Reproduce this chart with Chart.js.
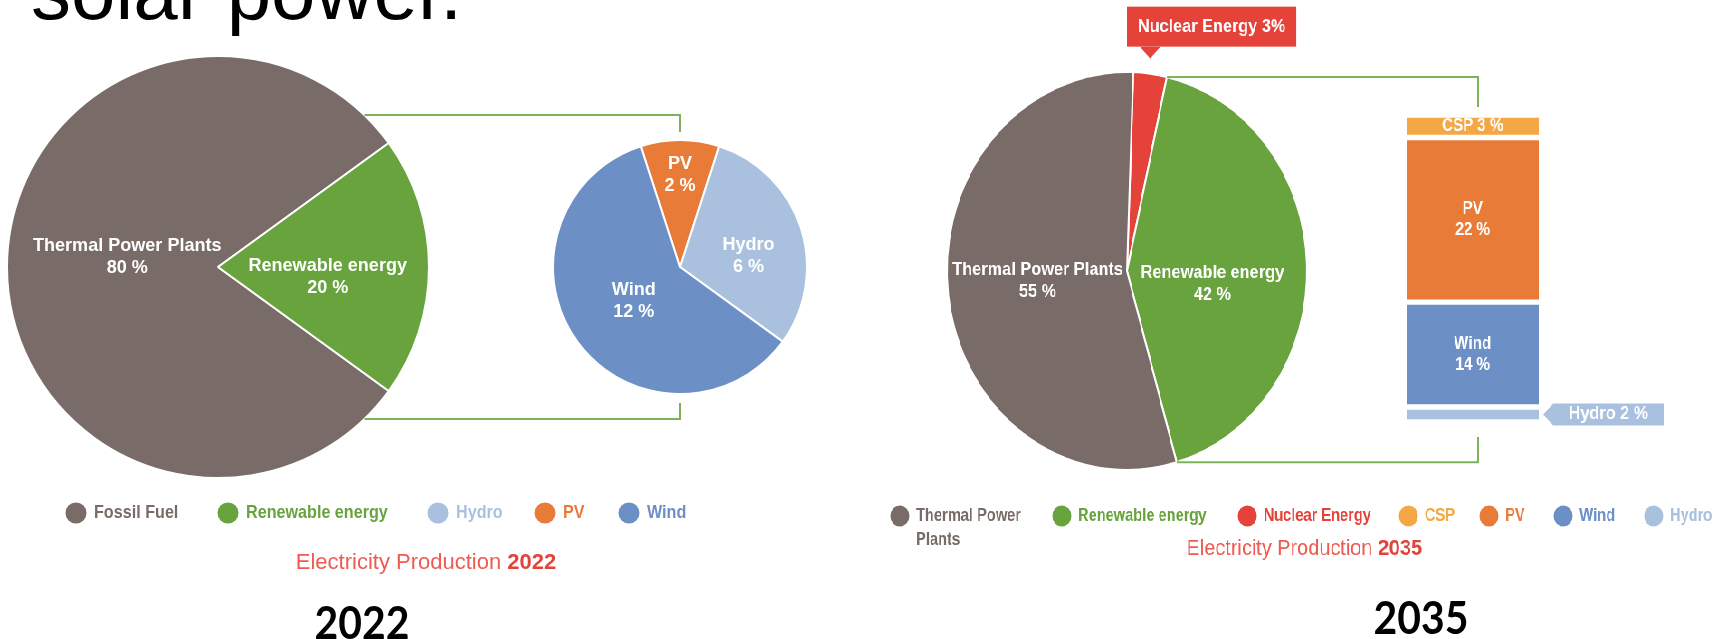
<!DOCTYPE html>
<html>
<head>
<meta charset="utf-8">
<script src="https://cdn.jsdelivr.net/npm/chart.js@4.4.0/dist/chart.umd.min.js"></script>
<style>
  html, body { margin: 0; padding: 0; background: #fff; overflow: hidden; }
  body { width: 1721px; height: 639px; position: relative; font-family: "Liberation Sans", Arial, sans-serif; }
  canvas, .abs { position: absolute; }
  #heading { left: 31px; top: -48px; font-size: 80px; line-height: 80px; color: #000; white-space: nowrap; }
  .year { width: 200px; text-align: center; font-family: Lato, "Open Sans", sans-serif; font-weight: 700;
          font-size: 46px; line-height: 46px; color: #000; transform: scaleX(0.89); }
  /* the 2035 panel is horizontally squeezed in the source picture */
  #rightPanel { left: 860px; top: 0; width: 960px; height: 639px; transform: scaleX(0.905); transform-origin: 0 0; }
</style>
</head>
<body>
<div id="heading" class="abs">solar power.</div>

<canvas id="leftMain" width="860" height="639" style="left:0;top:0"></canvas>
<canvas id="leftSub" width="260" height="260" style="left:550px;top:137px"></canvas>

<div id="rightPanel" class="abs">
  <canvas id="rightMain" width="960" height="639" style="left:0;top:0"></canvas>
  <canvas id="rightSub" width="400" height="639" style="left:560px;top:0"></canvas>
</div>

<div class="abs year" id="year0" style="left:262px;top:599px"></div>
<div class="abs year" id="year1" style="left:1321px;top:594px"></div>

<script>
// ---- data ----
const LEFT_MAIN_LABELS = ["Fossil Fuel", "Renewable energy"];
const LEFT_MAIN_NAMES = ["Thermal Power Plants", "Renewable energy"];
const LEFT_MAIN_VALUES = [80, 20];
const LEFT_SUB_LABELS = ["PV", "Hydro", "Wind"];
const LEFT_SUB_VALUES = [2, 6, 12];
const LEFT_LEGEND = ["Fossil Fuel", "Renewable energy", "Hydro", "PV", "Wind"];

const RIGHT_MAIN_LABELS = ["Nuclear Energy", "Renewable energy", "Thermal Power Plants"];
const RIGHT_MAIN_VALUES = [3, 42, 55];
const RIGHT_SUB_LABELS = ["Hydro", "Wind", "PV", "CSP"]; // stacked bottom -> top
const RIGHT_SUB_VALUES = [2, 14, 22, 3];
const RIGHT_LEGEND = ["Thermal Power Plants", "Renewable energy", "Nuclear Energy", "CSP", "PV", "Wind", "Hydro"];

const TITLE_TEXT = "Electricity Production ";
const YEARS = ["2022", "2035"];

// ---- style ----
const COLORS = {
  "Fossil Fuel": "#796c68",
  "Thermal Power Plants": "#796c68",
  "Renewable energy": "#68a33e",
  "Nuclear Energy": "#e5423a",
  "CSP": "#f4a845",
  "PV": "#e97b38",
  "Wind": "#6c8fc5",
  "Hydro": "#aac0df",
};
const LINK = "#7cb45a";
const TITLE_RED = "#ee5b52";
const YEAR_RED = "#e2443b";
const FAMILY = "'Liberation Sans', Arial, sans-serif";
const LABEL_FONT = `bold 19px ${FAMILY}`;
const LEGEND_FONT = `bold 19px ${FAMILY}`;
const LEGEND_SX = 0.85;

// layout (pixels)
const LEFT_LEGEND_X = [76, 228, 438, 545, 629];
const RIGHT_LEGEND_X = [44, 223, 428, 606, 695, 777, 877];
const SUB_PIE = { cx: 680, cy: 267, r: 126 };
const BAR_LINK = { x: 683, top: 107, bottom: 437 };

function txt(ctx, s, x, y, font, color, sx = 1, align = "center") {
  ctx.save();
  ctx.font = font;
  ctx.fillStyle = color;
  ctx.textAlign = align;
  ctx.textBaseline = "middle";
  ctx.translate(x, y);
  ctx.scale(sx, 1);
  ctx.fillText(s, 0, 0);
  ctx.restore();
}

function arcProps(arc) {
  return arc.getProps(["x", "y", "startAngle", "endAngle", "outerRadius"], true);
}

// two-line "Name / NN %" labels inside pie slices
function sliceLabels(names, values, place) {
  return {
    id: "sliceLabels",
    afterDatasetsDraw(chart) {
      const ctx = chart.ctx;
      chart.getDatasetMeta(0).data.forEach((arc, i) => {
        const p = place[i];
        if (!p) return;
        const { x, y, startAngle, endAngle, outerRadius } = arcProps(arc);
        const mid = (startAngle + endAngle) / 2;
        const lx = x + Math.cos(mid) * outerRadius * p.f;
        const ly = y + Math.sin(mid) * outerRadius * p.f + (p.dy || 0);
        txt(ctx, names[i], lx, ly - 11, LABEL_FONT, "#fff", 0.95);
        txt(ctx, values[i] + " %", lx, ly + 11, LABEL_FONT, "#fff", 0.95);
      });
    },
  };
}

function wrapWords(ctx, s, maxW) {
  const words = s.split(" ");
  const lines = [];
  let cur = "";
  words.forEach((w) => {
    const t = cur ? cur + " " + w : w;
    if (cur && ctx.measureText(t).width * LEGEND_SX > maxW) { lines.push(cur); cur = w; } else cur = t;
  });
  lines.push(cur);
  return lines;
}

function legendAndTitle(items, xs, y, title) {
  return {
    id: "legendAndTitle",
    afterDraw(chart) {
      const ctx = chart.ctx;
      items.forEach((name, i) => {
        const color = COLORS[name];
        ctx.fillStyle = color;
        ctx.beginPath();
        ctx.arc(xs[i], y, 10.5, 0, Math.PI * 2);
        ctx.fill();
        ctx.font = LEGEND_FONT;
        wrapWords(ctx, name, 150).forEach((ln, k) => {
          txt(ctx, ln, xs[i] + 18, y + k * 24, LEGEND_FONT, color, LEGEND_SX, "left");
        });
      });
      // "Electricity Production YYYY"
      const f1 = `22px ${FAMILY}`, f2 = `bold 22px ${FAMILY}`;
      ctx.font = f1;
      const w1 = ctx.measureText(title.text).width;
      ctx.font = f2;
      const w2 = ctx.measureText(title.year).width;
      const x0 = title.x - (w1 + w2) / 2;
      txt(ctx, title.text, x0, title.y, f1, TITLE_RED, 1, "left");
      txt(ctx, title.year, x0 + w1, title.y, f2, YEAR_RED, 1, "left");
    },
  };
}

// green bracket from the big 2022 pie to the renewable breakdown pie
const leftLinks = {
  id: "leftLinks",
  afterDatasetsDraw(chart) {
    const ctx = chart.ctx;
    const { x, y, outerRadius: r } = arcProps(chart.getDatasetMeta(0).data[0]);
    const dy = r * 0.72;
    const x0 = x + Math.sqrt(r * r - dy * dy);
    ctx.save();
    ctx.strokeStyle = LINK;
    ctx.lineWidth = 2;
    ctx.beginPath();
    ctx.moveTo(x0, y - dy); ctx.lineTo(SUB_PIE.cx, y - dy); ctx.lineTo(SUB_PIE.cx, SUB_PIE.cy - SUB_PIE.r - 9);
    ctx.moveTo(x0, y + dy); ctx.lineTo(SUB_PIE.cx, y + dy); ctx.lineTo(SUB_PIE.cx, SUB_PIE.cy + SUB_PIE.r + 10);
    ctx.stroke();
    ctx.restore();
  },
};

// bracket from the renewable slice of 2035 to the stacked bar + nuclear callout
const rightExtras = {
  id: "rightExtras",
  afterDatasetsDraw(chart) {
    const ctx = chart.ctx;
    const arcs = chart.getDatasetMeta(0).data;
    const ren = arcProps(arcs[RIGHT_MAIN_LABELS.indexOf("Renewable energy")]);
    const p0 = { x: ren.x + ren.outerRadius * Math.cos(ren.startAngle), y: ren.y + ren.outerRadius * Math.sin(ren.startAngle) };
    const p1 = { x: ren.x + ren.outerRadius * Math.cos(ren.endAngle), y: ren.y + ren.outerRadius * Math.sin(ren.endAngle) };
    ctx.save();
    ctx.strokeStyle = LINK;
    ctx.lineWidth = 2;
    ctx.beginPath();
    ctx.moveTo(p0.x, p0.y); ctx.lineTo(BAR_LINK.x, p0.y); ctx.lineTo(BAR_LINK.x, BAR_LINK.top);
    ctx.moveTo(p1.x, p1.y); ctx.lineTo(BAR_LINK.x, p1.y); ctx.lineTo(BAR_LINK.x, BAR_LINK.bottom);
    ctx.stroke();

    const ni = RIGHT_MAIN_LABELS.indexOf("Nuclear Energy");
    const nuc = arcProps(arcs[ni]);
    const mid = (nuc.startAngle + nuc.endAngle) / 2;
    const tip = { x: nuc.x + nuc.outerRadius * Math.cos(mid), y: nuc.y + nuc.outerRadius * Math.sin(mid) - 15 };
    const text = RIGHT_MAIN_LABELS[ni] + " " + RIGHT_MAIN_VALUES[ni] + "%";
    const font = `bold 18px ${FAMILY}`;
    ctx.font = font;
    const w = ctx.measureText(text).width + 24;
    const bottom = tip.y - 12, top = bottom - 40, left = nuc.x;
    ctx.fillStyle = COLORS["Nuclear Energy"];
    ctx.fillRect(left, top, w, 40);
    ctx.beginPath();
    ctx.moveTo(tip.x - 11, bottom); ctx.lineTo(tip.x + 11, bottom); ctx.lineTo(tip.x, tip.y);
    ctx.closePath();
    ctx.fill();
    ctx.restore();
    txt(ctx, text, left + w / 2, top + 20, font, "#fff");
  },
};

const barLabels = {
  id: "barLabels",
  afterDatasetsDraw(chart) {
    const ctx = chart.ctx;
    const font = `bold 18px ${FAMILY}`;
    RIGHT_SUB_LABELS.forEach((name, i) => {
      const { x, y, base, width } = chart.getDatasetMeta(i).data[0].getProps(["x", "y", "base", "width"], true);
      const cy = (y + base) / 2;
      const h = base - y;
      const pct = RIGHT_SUB_VALUES[i] + " %";
      if (h < 20) {
        // arrow callout to the right of a thin segment
        const tx = x + width / 2 + 5;
        ctx.save();
        ctx.fillStyle = COLORS[name];
        ctx.beginPath();
        ctx.moveTo(tx, cy); ctx.lineTo(tx + 11, cy - 11); ctx.lineTo(tx + 133, cy - 11);
        ctx.lineTo(tx + 133, cy + 11); ctx.lineTo(tx + 11, cy + 11);
        ctx.closePath();
        ctx.fill();
        ctx.restore();
        txt(ctx, name + " " + pct, tx + 72, cy, font, "#fff");
      } else if (h < 40) {
        txt(ctx, name + " " + pct, x, cy, font, "#fff", 0.93);
      } else {
        txt(ctx, name, x, cy - 10.5, font, "#fff", 0.93);
        txt(ctx, pct, x, cy + 10.5, font, "#fff", 0.93);
      }
    });
  },
};

function pieChart(id, labels, values, rotation, padding, plugins) {
  return new Chart(document.getElementById(id), {
    type: "pie",
    data: {
      labels,
      datasets: [{
        data: values,
        backgroundColor: labels.map((l) => COLORS[l]),
        borderColor: "#ffffff",
        borderWidth: 2,
        hoverOffset: 0,
      }],
    },
    options: {
      responsive: false,
      devicePixelRatio: 1,
      animation: false,
      events: [],
      rotation,
      layout: { padding },
      plugins: { legend: { display: false }, tooltip: { enabled: false } },
    },
    plugins,
  });
}

// 2022: big pie + renewable breakdown pie
pieChart("leftMain", LEFT_MAIN_LABELS, LEFT_MAIN_VALUES, 126,
  { left: 6, top: 55, right: 430, bottom: 160 },
  [leftLinks,
   sliceLabels(LEFT_MAIN_NAMES, LEFT_MAIN_VALUES, [{ f: 0.43, dy: -10.5 }, { f: 0.52, dy: 9.5 }]),
   legendAndTitle(LEFT_LEGEND, LEFT_LEGEND_X, 513, { text: TITLE_TEXT, year: YEARS[0], x: 426, y: 563 })]);

pieChart("leftSub", LEFT_SUB_LABELS, LEFT_SUB_VALUES, -18,
  { left: 2, top: 2, right: 2, bottom: 2 },
  [sliceLabels(LEFT_SUB_LABELS, LEFT_SUB_VALUES, [{ f: 0.726, dy: 0 }, { f: 0.567, dy: 11 }, { f: 0.45, dy: 0 }])]);

// 2035: big pie + stacked renewable bar
pieChart("rightMain", RIGHT_MAIN_LABELS, RIGHT_MAIN_VALUES, 2,
  { left: 95, top: 71, right: 465, bottom: 168 },
  [rightExtras,
   sliceLabels(RIGHT_MAIN_LABELS, RIGHT_MAIN_VALUES, [null, { f: 0.475, dy: 15 }, { f: 0.5, dy: -2.5 }]),
   legendAndTitle(RIGHT_LEGEND, RIGHT_LEGEND_X, 516, { text: TITLE_TEXT, year: YEARS[1], x: 491, y: 549 })]);

new Chart(document.getElementById("rightSub"), {
  type: "bar",
  data: {
    labels: [YEARS[1]],
    datasets: RIGHT_SUB_LABELS.map((l, i) => ({
      label: l,
      data: [RIGHT_SUB_VALUES[i]],
      backgroundColor: COLORS[l],
      borderColor: "#ffffff",
      borderWidth: { top: 3, bottom: 3, left: 0, right: 0 },
      borderSkipped: false,
      barPercentage: 1,
      categoryPercentage: 1,
    })),
  },
  options: {
    responsive: false,
    devicePixelRatio: 1,
    animation: false,
    events: [],
    layout: { padding: { left: 44, right: 210, top: 115, bottom: 217 } },
    scales: {
      x: { stacked: true, display: false },
      y: { stacked: true, display: false, min: 0, max: RIGHT_SUB_VALUES.reduce((a, b) => a + b, 0) },
    },
    plugins: { legend: { display: false }, tooltip: { enabled: false } },
  },
  plugins: [barLabels],
});

document.getElementById("year0").textContent = YEARS[0];
document.getElementById("year1").textContent = YEARS[1];
</script>
</body>
</html>
